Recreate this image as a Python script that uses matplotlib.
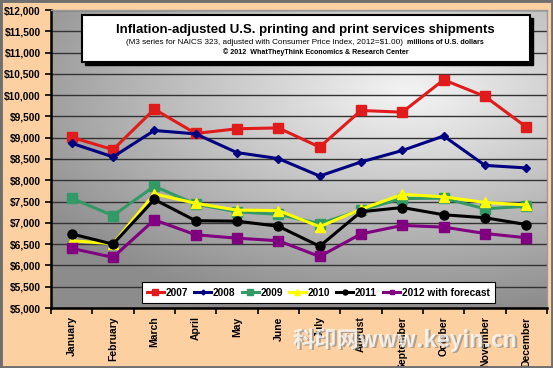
import numpy as np
import matplotlib.pyplot as plt
from matplotlib.colors import LinearSegmentedColormap
from matplotlib.patches import Rectangle
from matplotlib.ticker import FuncFormatter, MultipleLocator

plt.rcParams['font.family'] = ['Liberation Sans', 'DejaVu Sans']

# monthly shipments, millions of 2012 dollars
months = ['January', 'February', 'March', 'April', 'May', 'June', 'July',
          'August', 'September', 'October', 'November', 'December']
y2007 = [9010, 8720, 9670, 9100, 9210, 9230, 8780, 9640, 9600, 10360, 9970, 9250]
y2008 = [8870, 8550, 9170, 9090, 8650, 8510, 8100, 8430, 8700, 9040, 8350, 8290]
y2009 = [7580, 7170, 7860, 7440, 7260, 7200, 6980, 7300, 7570, 7580, 7330, 7390]
y2010 = [6580, 6510, 7680, 7460, 7300, 7290, 6910, 7320, 7670, 7610, 7480, 7420]
y2011 = [6740, 6500, 7550, 7050, 7040, 6920, 6450, 7260, 7360, 7190, 7120, 6960]
y2012 = [6400, 6190, 7070, 6720, 6640, 6580, 6210, 6740, 6940, 6900, 6750, 6650]

series = [
    ('2007', y2007, '#E01B1B', 's', 7),
    ('2008', y2008, '#000080', 'D', 4.5),
    ('2009', y2009, '#339966', 's', 7),
    ('2010', y2010, '#FFFF00', '^', 7),
    ('2011', y2011, '#000000', 'o', 6.5),
    ('2012 with forecast', y2012, '#800080', 's', 6.5),
]

W, H = 553, 368
fig = plt.figure(figsize=(W / 100, H / 100), dpi=100, facecolor='#FDD0A2')
fig.patches.append(Rectangle((0, 0), 1, 1, transform=fig.transFigure,
                             fill=False, edgecolor='#6f6f6f', linewidth=3.5))

ax = fig.add_axes([51 / W, 60 / H, 496 / W, 298 / H])

# grey gradient plot area, lightest toward the upper right
xx, yy = np.meshgrid(np.linspace(0, 1, 300), np.linspace(0, 1, 200))
d = np.sqrt(((xx - 0.72) / 0.9) ** 2 + ((yy - 0.72) / 0.75) ** 2)
grad = np.clip(1 - d, 0, 1)
cmap = LinearSegmentedColormap.from_list('bg', ['#8c8c8c', '#f4f4f4'])
ax.imshow(grad, extent=[0, 1, 0, 1], transform=ax.transAxes, origin='lower',
          aspect='auto', cmap=cmap, zorder=0)

x = np.arange(len(months))
for name, vals, col, mk, ms in series:
    ax.plot(x, vals, color=col, marker=mk, markersize=ms, linewidth=2.2,
            label=name, zorder=3)

ax.set_xlim(-0.5, 11.5)
ax.set_ylim(5000, 12000)
ax.yaxis.set_major_locator(MultipleLocator(500))
ax.yaxis.set_major_formatter(FuncFormatter(lambda v, p: '\\$' + format(int(v), ',')))
ax.grid(axis='y', color='#333333', linewidth=1)
ax.set_axisbelow(True)

ax.set_xticks(x)
ax.set_xticklabels(months, rotation=90, fontsize=7.5, fontweight='bold')
ax.set_xticks(np.arange(-0.5, 12, 1), minor=True)
ax.tick_params(axis='x', which='major', length=0, pad=6)
ax.tick_params(axis='x', which='minor', length=4, width=1.2, direction='out')
ax.tick_params(axis='y', length=4, width=1.2, direction='out', labelsize=7.3)
for lab in ax.get_yticklabels():
    lab.set_fontweight('bold')

for s in ['left', 'bottom']:
    ax.spines[s].set_linewidth(1.8)
    ax.spines[s].set_color('black')
for s in ['top', 'right']:
    ax.spines[s].set_color('#9a9a9a')
    ax.spines[s].set_linewidth(1)

leg = ax.legend(loc='lower left', bbox_to_anchor=(0.183, 0.018), ncol=6,
                frameon=True, fancybox=False, framealpha=1,
                edgecolor='black', handlelength=1.7, handletextpad=0.15,
                columnspacing=0.6, markerscale=0.55, borderpad=0.5,
                borderaxespad=0, prop={'weight': 'bold', 'size': 7.3})
leg.get_frame().set_linewidth(0.8)
leg.set_zorder(5)

# title box with shadow
bx0, by0, bx1, by1 = 82, 15, 530, 62
fig.patches.append(Rectangle(((bx0 + 3) / W, (H - by1 - 3) / H), (bx1 - bx0) / W,
                             (by1 - by0) / H, transform=fig.transFigure,
                             facecolor='black', edgecolor='black', zorder=6))
fig.patches.append(Rectangle((bx0 / W, (H - by1) / H), (bx1 - bx0) / W,
                             (by1 - by0) / H, transform=fig.transFigure,
                             facecolor='white', edgecolor='black', linewidth=1.5,
                             zorder=7))
fig.text(305 / W, 1 - 30 / H, 'Inflation-adjusted U.S. printing and print services shipments',
         ha='center', va='center', fontsize=9.5, fontweight='bold', zorder=8)
fig.text(403 / W, 1 - 43 / H,
         '(M3 series for NAICS 323, adjusted with Consumer Price Index, 2012=\\$1.00)',
         ha='right', va='center', fontsize=5.9, zorder=8)
fig.text(407 / W, 1 - 43 / H, 'millions of U.S. dollars',
         ha='left', va='center', fontsize=5.1, fontweight='bold', zorder=8)
fig.text(316 / W, 1 - 52.5 / H, '\u00a9 2012  WhatTheyThink Economics & Research Center',
         ha='center', va='center', fontsize=5.1, fontweight='bold', zorder=8)

# site watermark
fig.text(293 / W + 0.003, 1 - 340 / H - 0.004, '科印网www.keyin.cn',
         family=['Noto Sans CJK SC', 'DejaVu Sans'], fontsize=16, fontweight='bold',
         color='#808080', alpha=0.6, ha='left', va='center', zorder=9)
fig.text(293 / W, 1 - 340 / H, '科印网www.keyin.cn',
         family=['Noto Sans CJK SC', 'DejaVu Sans'], fontsize=16, fontweight='bold',
         color='white', alpha=0.75, ha='left', va='center', zorder=10)

fig.savefig('out.png', dpi=100, facecolor=fig.get_facecolor())
